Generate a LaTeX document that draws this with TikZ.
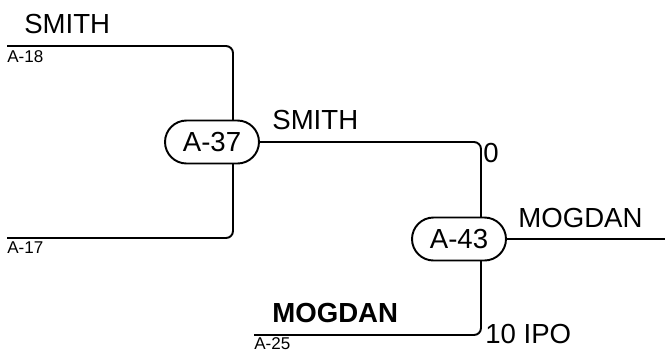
\documentclass[tikz,border=0pt]{standalone}
\usepackage{fontspec}
\setmainfont{Liberation Sans}
\usetikzlibrary{shapes.misc}

\begin{document}
\begin{tikzpicture}[x=0.02cm,y=-0.02cm,
  wire/.style={line width=1.1pt,rounded corners=4pt},
  bubble/.style={rounded rectangle,draw,line width=1.1pt,fill=white,minimum width=1.88cm,minimum height=0.86cm,inner sep=0pt,font=\fontsize{15.7}{18}\selectfont},
  big/.style={inner sep=0pt,anchor=base west,font=\fontsize{15.7}{18}\selectfont},
  small/.style={inner sep=0pt,anchor=base west,font=\fontsize{9.7}{11}\selectfont}]
\useasboundingbox (0,0) rectangle (665,353);

% free ends
\coordinate (in18) at (7,46);
\coordinate (in17) at (7,238);
\coordinate (in25) at (254,335);
\coordinate (out) at (665,239);

\draw[wire] (in18) -- (233,46) -- (233,238) -- (in17);
\node[bubble] (a37) at (212,142) {A-37};
\draw[wire] (a37.east) -- (481,142) -- (481,335) -- (in25);
\node[bubble] (a43) at (459,239) {A-43};
\draw[wire] (a43.east) -- (out);

% labels
\node[big] (smithtop) at (24,33) {SMITH};
\node[small] (l18) at (7,62) {A-18};
\node[small] (l17) at (7,253) {A-17};
\node[big] (smithmid) at (272,129) {SMITH};
\node[big] (zero) at (483,162) {0};
\node[big] (mogright) at (518,227) {MOGDAN};
\node[big,font=\fontsize{15.7}{18}\selectfont\bfseries] (mogbold) at (272,322) {MOGDAN};
\node[small] (l25) at (254,349) {A-25};
\node[big] (ipo) at (485,343) {10 IPO};
\end{tikzpicture}
\end{document}
